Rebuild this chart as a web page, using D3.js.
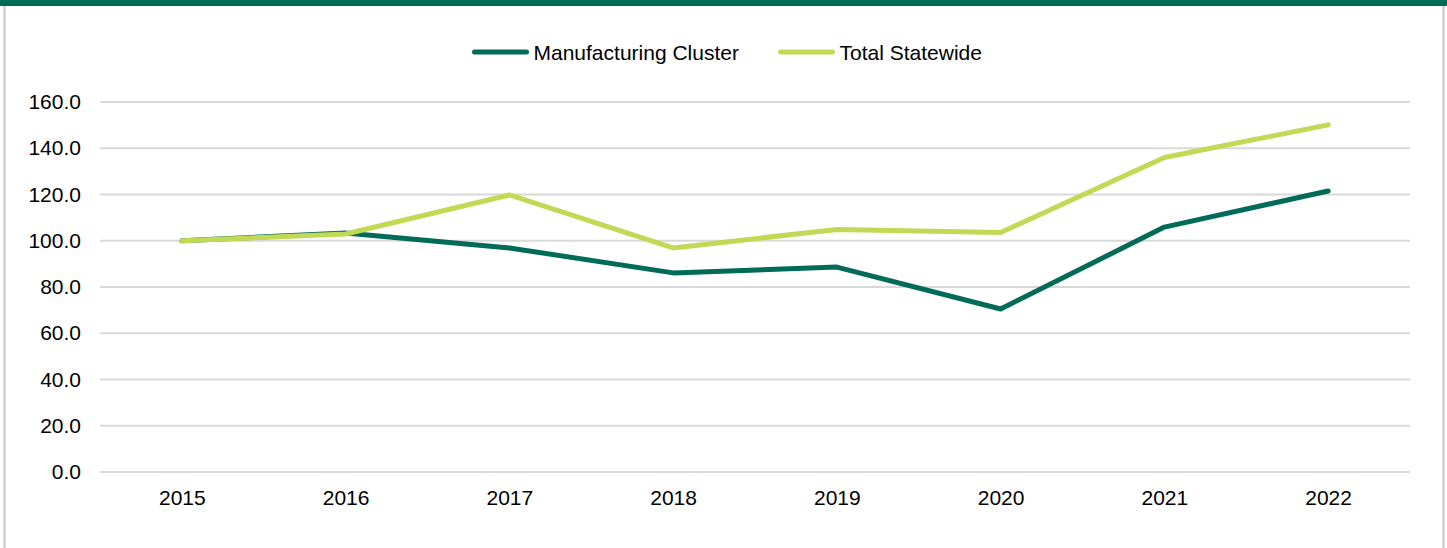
<!DOCTYPE html>
<html>
<head>
<meta charset="utf-8">
<script src="https://cdn.jsdelivr.net/npm/d3@7"></script>
<style>
  body { margin: 0; background: #fff; }
  svg { display: block; font-family: "Liberation Sans", Arial, sans-serif; }
</style>
</head>
<body>
<svg id="chart"></svg>
<script>
// données du graphique
let years = ["2015", "2016", "2017", "2018", "2019", "2020", "2021", "2022"];
let manufacturing = [100.0, 103.4, 96.9, 86.1, 88.6, 70.5, 105.9, 121.5];
let statewide = [100.0, 102.9, 119.8, 96.9, 104.9, 103.6, 136.0, 150.1];
let yTicks = [0, 20, 40, 60, 80, 100, 120, 140, 160];

let seriesNames = ["Manufacturing Cluster", "Total Statewide"];
let colors = ["#006B58", "#C1D955"];

let W = 1447, H = 548;
let margin = {top: 102, right: 37, bottom: 76, left: 100};
let fontSize = 21;

let svg = d3.select("#chart").attr("width", W).attr("height", H);

// cadre
svg.append("rect").attr("x", 0).attr("y", 0).attr("width", W).attr("height", 6).attr("fill", "#006B58");
svg.append("line").attr("x1", 4.5).attr("x2", 4.5).attr("y1", 6).attr("y2", H).attr("stroke", "#C8C8C8").attr("stroke-width", 2);
svg.append("line").attr("x1", 1443.5).attr("x2", 1443.5).attr("y1", 6).attr("y2", H).attr("stroke", "#C8C8C8").attr("stroke-width", 2);

let x = d3.scalePoint().domain(years).range([margin.left, W - margin.right]).padding(0.5);
let y = d3.scaleLinear().domain([0, 160]).range([H - margin.bottom, margin.top]);

// grille
svg.append("g").selectAll("line")
  .data(yTicks)
  .enter().append("line")
    .attr("x1", margin.left).attr("x2", W - margin.right)
    .attr("y1", d => y(d)).attr("y2", d => y(d))
    .attr("stroke", "#D9D9D9").attr("stroke-width", 2);

// axe y
let yAxis = svg.append("g")
  .attr("transform", `translate(${margin.left - 19},0)`)
  .call(d3.axisLeft(y).tickValues(yTicks).tickFormat(d3.format(".1f")).tickSize(0).tickPadding(0));
yAxis.select(".domain").remove();
yAxis.selectAll("text").attr("font-size", fontSize).attr("fill", "#000").attr("font-family", "Liberation Sans, Arial, sans-serif");

// axe x
let xAxis = svg.append("g")
  .attr("transform", `translate(0,${H - margin.bottom + 18})`)
  .call(d3.axisBottom(x).tickSize(0).tickPadding(0));
xAxis.select(".domain").remove();
xAxis.selectAll("text").attr("font-size", fontSize).attr("fill", "#000").attr("font-family", "Liberation Sans, Arial, sans-serif");

// lignes
let line = d3.line().x((d, i) => x(years[i])).y(d => y(d));
[manufacturing, statewide].forEach(function(values, k) {
  svg.append("path")
    .datum(values)
    .attr("d", line)
    .attr("fill", "none")
    .attr("stroke", colors[k])
    .attr("stroke-width", 5)
    .attr("stroke-linecap", "round")
    .attr("stroke-linejoin", "round");
});

// légende
let legendPos = [474.5, 780.5];
let legend = svg.append("g");
seriesNames.forEach(function(name, k) {
  legend.append("line")
    .attr("x1", legendPos[k]).attr("x2", legendPos[k] + 52)
    .attr("y1", 52).attr("y2", 52)
    .attr("stroke", colors[k]).attr("stroke-width", 5).attr("stroke-linecap", "round");
  legend.append("text")
    .attr("x", legendPos[k] + 59).attr("y", 60)
    .attr("font-size", fontSize).attr("fill", "#000")
    .text(name);
});
</script>
</body>
</html>
